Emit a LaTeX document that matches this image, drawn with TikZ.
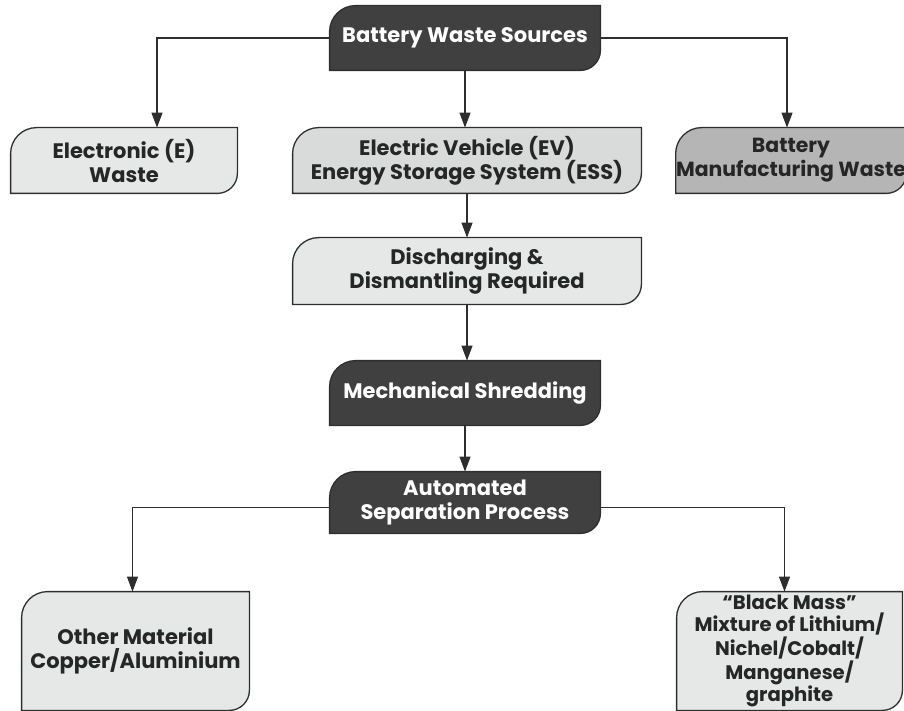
\documentclass[tikz,border=0pt]{standalone}
\usepackage{fontspec}
\setmainfont{Poppins}
\usetikzlibrary{arrows.meta, backgrounds}

\definecolor{boxline}{HTML}{2E2E2E}
\definecolor{darkfill}{HTML}{404040}
\definecolor{lightfill}{HTML}{E6E7E7}
\definecolor{midfill}{HTML}{D9DADA}
\definecolor{greyfill}{HTML}{B5B5B5}

\begin{document}
\begin{tikzpicture}[x=0.5pt, y=-0.5pt,
    every node/.style={align=center, inner sep=0pt},
    bigtext/.style={font=\bfseries\fontsize{10.5}{12}\selectfont, text=white},
    boxtext/.style={font=\bfseries\fontsize{10.5}{12}\selectfont, text=black!85},
    smalltext/.style={font=\bfseries\fontsize{9.8}{10.9}\selectfont, text=black!85},
    leaf/.style={draw=boxline, line width=0.65pt},
    arrow/.style={draw=boxline, line width=0.6pt, -{Triangle[length=7.5pt, width=5.5pt]}}
    ]
    \useasboundingbox (0,0) rectangle (904,711);

    % boxes, centre and size in px
    \node[bigtext, minimum width=135pt, minimum height=32pt] (sources) at (465,38) {Battery Waste Sources};
    \node[boxtext, minimum width=113pt, minimum height=32.5pt] (ewaste) at (124,160.5) {Electronic (E)\\ Waste};
    \node[boxtext, minimum width=174pt, minimum height=32.5pt] (ev) at (467,160.5) {Electric Vehicle (EV)\\ Energy Storage System (ESS)};
    \node[boxtext, font=\bfseries\fontsize{10.2}{12}\selectfont, minimum width=108pt, minimum height=32.5pt] (manuf) at (791,160.5) {Battery\\ Manufacturing Waste};
    \node[boxtext, minimum width=174pt, minimum height=33pt] (discharge) at (467,271) {Discharging \&\\ Dismantling Required};
    \node[bigtext, minimum width=135pt, minimum height=32pt] (shred) at (465,393) {Mechanical Shredding};
    \node[bigtext, minimum width=135pt, minimum height=30.5pt] (separation) at (465,502.5) {Automated\\ Separation Process};
    \node[boxtext, minimum width=113.5pt, minimum height=59pt] (other) at (135.5,651) {Other Material\\ Copper/Aluminium};
    \node[smalltext, minimum width=112.5pt, minimum height=59pt] (blackmass) at (789.5,651) {``Black Mass''\\ Mixture of Lithium/\\ Nichel/Cobalt/\\ Manganese/\\ graphite};

    % leaf shaped outlines behind the text
    \begin{scope}[on background layer]
    \foreach \n/\c in {sources/darkfill, ewaste/lightfill, ev/midfill, manuf/greyfill,
                       discharge/lightfill, shred/darkfill, separation/darkfill,
                       other/lightfill, blackmass/lightfill}
        \draw[leaf, fill=\c] (\n.south west) -- ([yshift=-13pt]\n.north west)
            arc[start angle=180, end angle=90, radius=13pt] -- (\n.north east)
            -- ([yshift=10pt]\n.south east) arc[start angle=0, end angle=-90, radius=10pt] -- cycle;
    \end{scope}

    % connectors
    \draw[arrow] (sources.west) -| ([xshift=16.5pt]ewaste.north);
    \draw[arrow] (sources.east) -| ([xshift=-2pt]manuf.north);
    \draw[arrow] (sources.south) -- (sources.south |- ev.north);
    \draw[arrow] (ev.south) -- (discharge.north);
    \draw[arrow] (discharge.south) -- (discharge.south |- shred.north);
    \draw[arrow] (shred.south) -- (separation.north);
    \draw[arrow] ([yshift=-2.5pt]separation.west) -| ([xshift=-1.5pt]other.north);
    \draw[arrow] ([yshift=-2.5pt]separation.east) -| ([xshift=-2.5pt]blackmass.north);

\end{tikzpicture}
\end{document}
